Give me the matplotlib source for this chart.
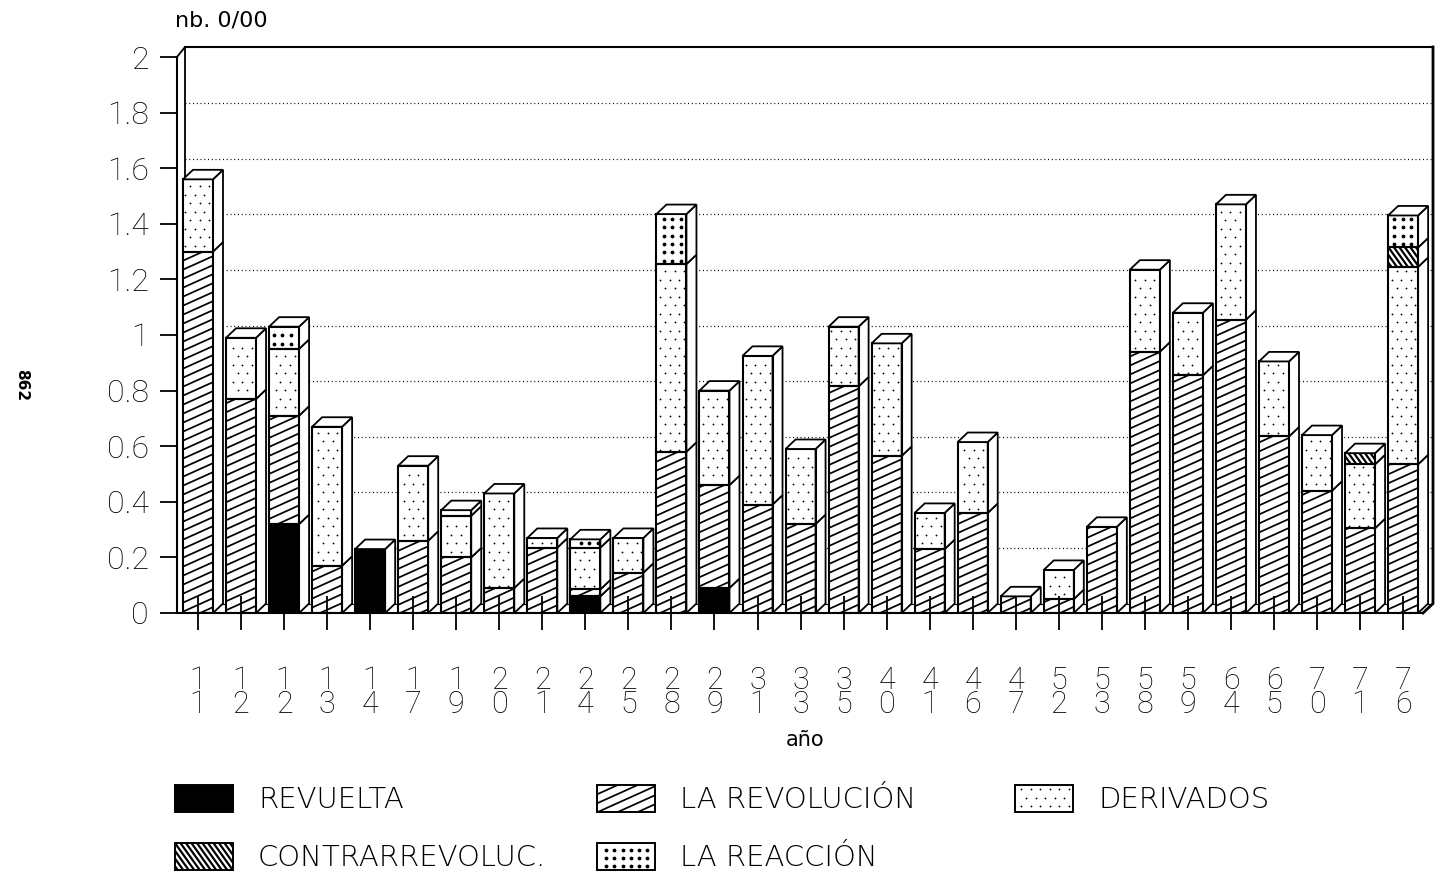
import numpy as np
import matplotlib
matplotlib.use("Agg")
import matplotlib.pyplot as plt
from matplotlib.patches import Rectangle, Polygon
from matplotlib.collections import LineCollection

# ---------------- data ----------------
years = ["11", "12", "12", "13", "14", "17", "19", "20", "21", "24", "25", "28", "29", "31",
         "33", "35", "40", "41", "46", "47", "52", "53", "58", "59", "64", "65", "70", "71", "76"]
revuelta = [0, 0, 0.32, 0, 0.23, 0, 0, 0, 0, 0.06, 0, 0, 0.09, 0,
            0, 0, 0, 0, 0, 0, 0, 0, 0, 0, 0, 0, 0, 0, 0]
revolucion = [1.30, 0.77, 0.39, 0.17, 0, 0.26, 0.20, 0.09, 0.235, 0.025, 0.145, 0.58, 0.37, 0.39,
              0.32, 0.815, 0.565, 0.23, 0.36, 0.06, 0.05, 0.31, 0.94, 0.855, 1.055, 0.635, 0.44, 0.305, 0.535]
derivados = [0.26, 0.22, 0.24, 0.50, 0, 0.27, 0.15, 0.34, 0.035, 0.15, 0.125, 0.675, 0.34, 0.535,
             0.27, 0.215, 0.405, 0.13, 0.255, 0, 0.105, 0, 0.295, 0.225, 0.415, 0.27, 0.20, 0.23, 0.71]
contrarrevoluc = [0, 0, 0, 0, 0, 0, 0, 0, 0, 0, 0, 0, 0, 0,
                  0, 0, 0, 0, 0, 0, 0, 0, 0, 0, 0, 0, 0, 0.04, 0.07]
reaccion = [0, 0, 0.08, 0, 0, 0, 0.02, 0, 0, 0.03, 0, 0.18, 0, 0,
            0, 0, 0, 0, 0, 0, 0, 0, 0, 0, 0, 0, 0, 0, 0.115]
series_names = ["REVUELTA", "LA REVOLUCIÓN", "DERIVADOS", "CONTRARREVOLUC.", "LA REACCIÓN"]
y_ticks = [0, 0.2, 0.4, 0.6, 0.8, 1.0, 1.2, 1.4, 1.6, 1.8, 2.0]
y_tick_labels = ["0", "0.2", "0.4", "0.6", "0.8", "1", "1.2", "1.4", "1.6", "1.8", "2"]
y_title = "nb. 0/00"
x_title = "año"

# ---------------- geometry / style ----------------
W, H = 1440, 883
AX_L, AX_R, AX_T, AX_B = 177, 1433, 47, 613
PX_PER_X = 43.04
PX_PER_Y = 278.0
DEPTH_X, DEPTH_Y = 10.0, 9.5
BAR_W_PX = 30.0
FIRST_CENTER_PX = 198.0
TICKFONT = ["Roboto", "Liberation Sans", "DejaVu Sans"]
WIDE = ["DejaVu Sans"]

fig = plt.figure(figsize=(W / 100, H / 100), dpi=100)
fig.patch.set_facecolor("white")
ax = fig.add_axes([AX_L / W, 1 - AX_B / H, (AX_R - AX_L) / W, (AX_B - AX_T) / H])
xmin = -(FIRST_CENTER_PX - AX_L) / PX_PER_X
xmax = xmin + (AX_R - AX_L) / PX_PER_X
ymax = (AX_B - AX_T) / PX_PER_Y
ax.set_xlim(xmin, xmax)
ax.set_ylim(0, ymax)
ax.patch.set_visible(False)

ddx = DEPTH_X / PX_PER_X
ddy = DEPTH_Y / PX_PER_Y
wall_x = xmin + 8 / PX_PER_X


def to_data(a, pts):
    return a.transData.inverted().transform(np.asarray(pts, dtype=float))


def fill_pattern(a, x0, y0, x1, y1, kind, clip, z):
    (X0, Y0), (X1, Y1) = a.transData.transform([(x0, y0), (x1, y1)])
    Xa, Xb = min(X0, X1), max(X0, X1)
    Ya, Yb = min(Y0, Y1), max(Y0, Y1)
    if kind == "solid":
        return
    if kind in ("rev", "contra"):
        if kind == "rev":
            s, sp, lw = 0.45, 9.0, 1.25
        else:
            s, sp, lw = -1.4, 7.7, 1.6
        cands = [Ya - s * Xa, Ya - s * Xb, Yb - s * Xa, Yb - s * Xb]
        k0 = int(np.floor(min(cands) / sp)) - 1
        k1 = int(np.ceil(max(cands) / sp)) + 1
        segs = []
        for k in range(k0, k1 + 1):
            c = k * sp
            p = [[Xa - 3, s * (Xa - 3) + c], [Xb + 3, s * (Xb + 3) + c]]
            segs.append(to_data(a, p))
        lc = LineCollection(segs, colors="black", linewidths=lw, zorder=z)
        a.add_collection(lc, autolim=False)
        lc.set_clip_path(clip)
    else:
        if kind == "der":
            hx, hy, ms, stag, m = 9.5, 8.5, 1.8, True, 2.0
        else:
            hx, hy, ms, stag, m = 8.3, 8.3, 3.8, False, 2.6
        pts = []
        for j in range(int(np.floor(Ya / hy)), int(np.ceil(Yb / hy)) + 1):
            yy = j * hy
            if yy < Ya + m or yy > Yb - m:
                continue
            off = hx / 2 if (stag and j % 2) else 0.0
            for i in range(int(np.floor((Xa - off) / hx)), int(np.ceil((Xb - off) / hx)) + 1):
                xx = i * hx + off
                if Xa + m <= xx <= Xb - m:
                    pts.append((xx, yy))
        if pts:
            d = to_data(a, pts)
            a.plot(d[:, 0], d[:, 1], ls="none", marker="o", ms=ms * 0.72,
                   mfc="black", mec="none", zorder=z, clip_on=False)


# ---------------- back wall, grid, floor ----------------
for v in y_ticks[1:-1]:
    ax.plot([wall_x, xmax], [v + ddy, v + ddy], color="black", lw=0.9,
            ls=(0, (0.8, 2.2)), zorder=1, clip_on=False)
ax.plot([wall_x, wall_x], [ddy * 0.8, ymax], color="black", lw=1.3, zorder=1, clip_on=False)
ax.plot([wall_x, xmax], [ymax, ymax], color="black", lw=1.5, zorder=1, clip_on=False)
ax.plot([xmax, xmax, xmax - ddx], [ymax, ddy, 0], color="black", lw=2.0, zorder=1, clip_on=False)
ax.plot([wall_x, xmax], [ddy, ddy], color="black", lw=0.8, zorder=1, clip_on=False)
ax.plot([xmin, wall_x], [y_ticks[-1], ymax], color="black", lw=1.3, zorder=1, clip_on=False)

# ---------------- bars ----------------
series = [revuelta, revolucion, derivados, contrarrevoluc, reaccion]
kinds = ["solid", "rev", "der", "contra", "reac"]
half = BAR_W_PX / 2 / PX_PER_X
for i in range(len(years)):
    base = 0.0
    xl, xr = i - half, i + half
    z = 3 + i * 0.01
    for vals, kind in zip(series, kinds):
        v = vals[i]
        if v <= 0:
            continue
        top = base + v
        face = Rectangle((xl, base), xr - xl, v, fc="black" if kind == "solid" else "white",
                         ec="none", zorder=z)
        ax.add_patch(face)
        fill_pattern(ax, xl, base, xr, top, kind, face, z + 0.001)
        ax.add_patch(Rectangle((xl, base), xr - xl, v, fc="none", ec="black", lw=1.5, zorder=z + 0.002))
        side = Polygon([(xr, base), (xr + ddx, base + ddy), (xr + ddx, top + ddy), (xr, top)],
                       closed=True, fc="white", ec="black", lw=1.3, zorder=z)
        ax.add_patch(side)
        base = top
    topface = Polygon([(xl, base), (xl + ddx, base + ddy), (xr + ddx, base + ddy), (xr, base)],
                      closed=True, fc="white", ec="black", lw=1.3, zorder=z + 0.003)
    ax.add_patch(topface)

# ---------------- axes ----------------
for sp in ("top", "right"):
    ax.spines[sp].set_visible(False)
ax.spines["left"].set_bounds(0, y_ticks[-1])
ax.spines["left"].set_linewidth(1.5)
ax.spines["bottom"].set_bounds(xmin, xmax - ddx)
ax.spines["bottom"].set_linewidth(1.5)
ax.spines["left"].set_zorder(10)
ax.spines["bottom"].set_zorder(10)

ax.set_yticks(y_ticks, y_tick_labels)
ax.tick_params(axis="y", direction="out", length=12.2, width=1.3, pad=8, labelsize=23)
for t in ax.get_yticklabels():
    t.set_family(TICKFONT)
    t.set_fontweight("light")

ax.set_xticks(range(len(years)), [y[0] + "\n" + y[1] for y in years])
ax.tick_params(axis="x", direction="inout", length=23.8, width=1.3, pad=26, labelsize=22)
for t in ax.get_xticklabels():
    t.set_family(TICKFONT)
    t.set_fontweight("light")
    t.set_linespacing(0.78)
ax.xaxis.set_zorder(10)
ax.yaxis.set_zorder(10)

fig.text(805 / W, 1 - 740 / H, x_title, ha="center", va="center", fontsize=15, family=WIDE)
fig.text(175 / W, 1 - 20 / H, y_title, ha="left", va="center", fontsize=16, family=WIDE)
fig.text(22 / W, 1 - 385 / H, "862", ha="center", va="center", fontsize=11,
         fontweight="bold", rotation=-90, family=WIDE)

# ---------------- legend (drawn in pixel overlay) ----------------
lg = fig.add_axes([0, 0, 1, 1])
lg.set_xlim(0, W)
lg.set_ylim(H, 0)
lg.axis("off")
leg_slots = [(175, 785), (597, 785), (1015, 785), (175, 843), (597, 843)]
for (px, py), name, kind in zip(leg_slots, series_names, kinds):
    r = Rectangle((px, py), 58, 27, fc="black" if kind == "solid" else "white", ec="none", zorder=3)
    lg.add_patch(r)
    fill_pattern(lg, px, py, px + 58, py + 27, kind, r, 3.1)
    lg.add_patch(Rectangle((px, py), 58, 27, fc="none", ec="black", lw=1.4, zorder=3.2))
    lg.text(px + 83, py + 15, name, ha="left", va="center", fontsize=21, family=WIDE,
            fontweight="light")

fig.savefig("out.png", dpi=100, facecolor="white")
